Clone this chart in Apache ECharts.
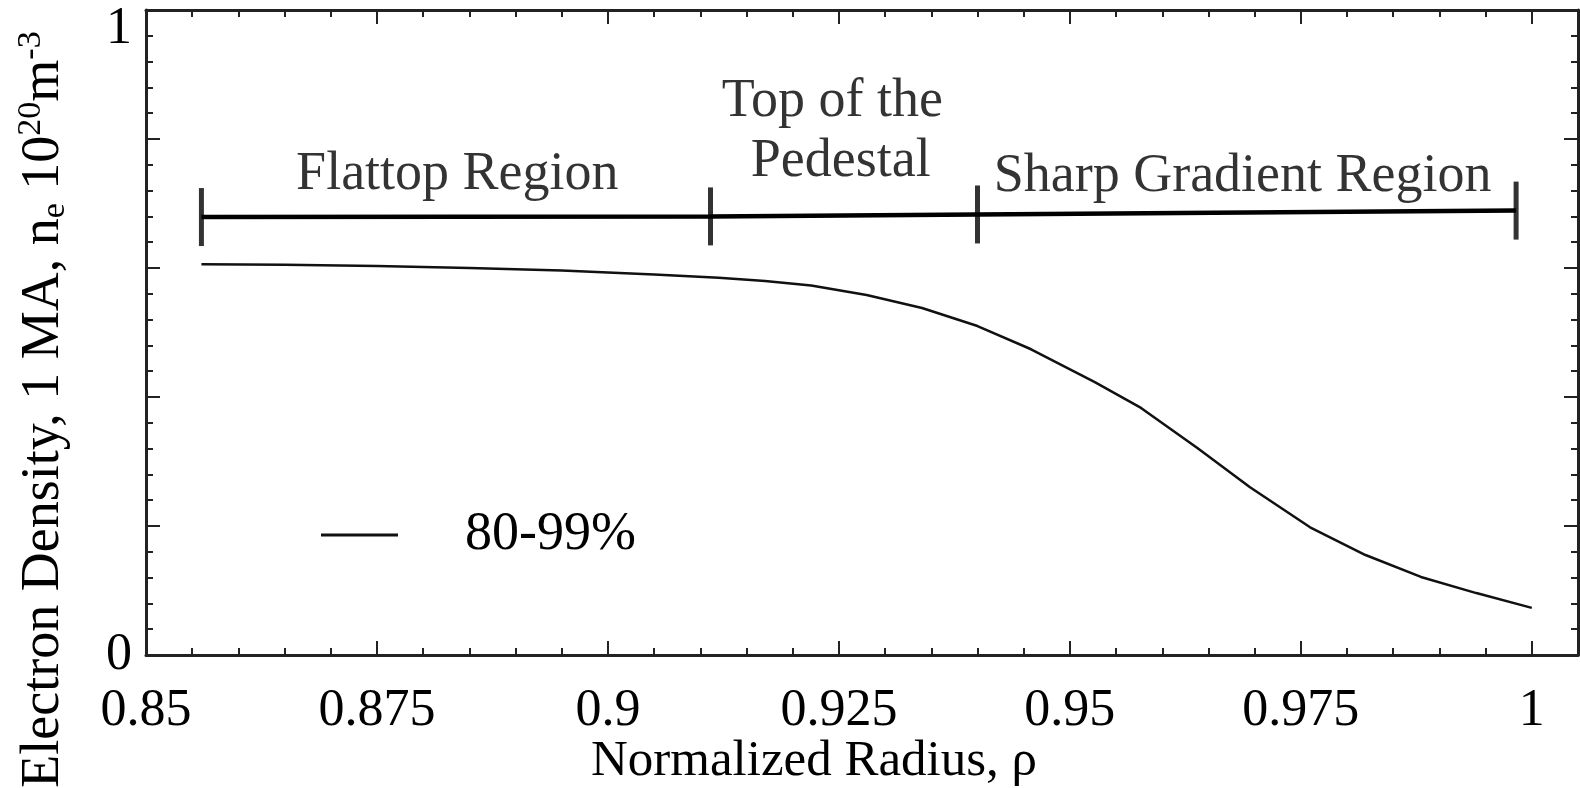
<!DOCTYPE html>
<html>
<head>
<meta charset="utf-8">
<script src="https://cdn.jsdelivr.net/npm/echarts@6/dist/echarts.min.js"></script>
<style>
html,body{margin:0;padding:0;background:#fff;}
#chart{width:1580px;height:788px;}
</style>
</head>
<body>
<div id="chart"></div>
<script>
// ---- data ----
const radius = [0.856, 0.865, 0.875, 0.885, 0.895, 0.905, 0.912, 0.917, 0.922, 0.928, 0.934, 0.940, 0.9458, 0.9527, 0.9577, 0.9638, 0.9695, 0.976, 0.982, 0.988, 0.994, 1.000];
const density = [0.606, 0.605, 0.603, 0.600, 0.596, 0.590, 0.585, 0.580, 0.573, 0.558, 0.538, 0.510, 0.474, 0.423, 0.383, 0.321, 0.260, 0.198, 0.155, 0.121, 0.096, 0.073];
const seriesName = '80-99%';

const regionBoundsX = [0.856, 0.9111, 0.940, 0.9983];
const regionBoundsY = [0.679, 0.680, 0.683, 0.689];
const regionNames = ['Flattop Region', 'Top of the', 'Pedestal', 'Sharp Gradient Region'];
const regionNameX = [0.8837, 0.9243, 0.9252, 0.9687];
const regionNameY = [0.745, 0.857, 0.765, 0.742];

const xTicks = [0.85, 0.875, 0.9, 0.925, 0.95, 0.975, 1];
const xTickLabels = ['0.85', '0.875', '0.9', '0.925', '0.95', '0.975', '1'];
const yTicks = [0, 1];
const yTickLabels = ['0', '1'];

// ---- chart ----
const FONT = 'Liberation Serif';
const chart = echarts.init(document.getElementById('chart'), null, {renderer: 'canvas'});

function fmtFrom(ticks, labels) {
  return function (v) {
    const i = ticks.findIndex(t => Math.abs(t - v) < 1e-6);
    return i >= 0 ? labels[i] : '';
  };
}

const axisLineStyle = {color: '#222', width: 3};
const tickCommon = {show: true, inside: true, length: 14, lineStyle: {color: '#222', width: 2}};
const minorCommon = {show: true, splitNumber: 5, length: 7, lineStyle: {color: '#222', width: 2}};

const curveData = radius.map((x, i) => [x, density[i]]);
const barData = regionBoundsX.map((x, i) => [x, regionBoundsY[i]]);
const labelData = regionNames.map((n, i) => ({name: n, value: [regionNameX[i], regionNameY[i]]}));

const option = {
  animation: false,
  backgroundColor: '#fff',
  grid: {left: 146, right: 2, top: 10, bottom: 133, containLabel: false, outerBoundsMode: 'none'},
  legend: {
    left: 316, top: 503,
    data: [seriesName],
    icon: 'rect', itemWidth: 77, itemHeight: 3,
    textStyle: {fontFamily: FONT, fontSize: 54, color: '#000', padding: [0, 0, 0, 62]}
  },
  xAxis: [{
    type: 'value', position: 'bottom', min: 0.85, max: 1.005, interval: 0.025,
    name: 'Normalized Radius, ρ', nameLocation: 'middle', nameGap: 81, nameMoveOverlap: false,
    nameTextStyle: {fontFamily: FONT, fontSize: 51, color: '#000', padding: [0, 96, 0, 0]},
    axisLine: {show: true, onZero: false, lineStyle: axisLineStyle},
    axisTick: tickCommon, minorTick: minorCommon,
    axisLabel: {show: true, margin: 30, fontFamily: FONT, fontSize: 52, color: '#000', formatter: fmtFrom(xTicks, xTickLabels), showMaxLabel: false},
    splitLine: {show: false}
  }, {
    type: 'value', position: 'top', min: 0.85, max: 1.005, interval: 0.025,
    axisLine: {show: true, onZero: false, lineStyle: axisLineStyle},
    axisTick: tickCommon, minorTick: minorCommon,
    axisLabel: {show: false}, splitLine: {show: false}
  }],
  yAxis: [{
    type: 'value', position: 'left', min: 0, max: 1, interval: 0.2,
    name: 'Electron Density, 1 MA, n{sub|e} 10{sup|20}m{sup|-3}',
    nameLocation: 'middle', nameGap: 72, nameRotate: 90, nameMoveOverlap: false,
    nameTextStyle: {
      fontFamily: FONT, fontSize: 54, color: '#000', padding: [0, 154, 0, 0],
      rich: {
        sub: {fontFamily: FONT, fontSize: 34, color: '#000', padding: [22, 0, 0, 0]},
        sup: {fontFamily: FONT, fontSize: 34, color: '#000', padding: [0, 0, 26, 0]}
      }
    },
    axisLine: {show: true, onZero: false, lineStyle: axisLineStyle},
    axisTick: tickCommon, minorTick: minorCommon,
    axisLabel: {
      show: true, margin: 14, fontFamily: FONT, fontSize: 52, color: '#000',
      formatter: function (v) {
        const s = fmtFrom(yTicks, yTickLabels)(v);
        return v === 1 ? '{t|' + s + '}' : s;
      },
      rich: {t: {fontFamily: FONT, fontSize: 52, color: '#000', padding: [38, 0, 0, 0]}}
    },
    splitLine: {show: false}
  }, {
    type: 'value', position: 'right', min: 0, max: 1, interval: 0.2,
    axisLine: {show: true, onZero: false, lineStyle: axisLineStyle},
    axisTick: tickCommon, minorTick: minorCommon,
    axisLabel: {show: false}, splitLine: {show: false}
  }],
  series: [{
    name: seriesName, type: 'line', data: curveData, showSymbol: false, smooth: false,
    lineStyle: {color: '#111', width: 2.5}, itemStyle: {color: '#111'}, z: 3
  }, {
    name: 'regions', type: 'line', data: barData, showSymbol: false,
    lineStyle: {color: '#000', width: 4.5}, z: 3
  }, {
    name: 'caps', type: 'scatter', data: barData, symbol: 'rect', symbolSize: [5, 58],
    itemStyle: {color: '#000'}, z: 4
  }, {
    name: 'regionLabels', type: 'scatter', data: labelData, symbolSize: 0,
    itemStyle: {color: '#000'},
    label: {show: true, position: 'inside', formatter: '{b}', fontFamily: FONT, fontSize: 54, color: '#000', textBorderWidth: 0, textBorderColor: 'transparent'},
    z: 5
  }]
};
chart.setOption(option);
</script>
</body>
</html>
